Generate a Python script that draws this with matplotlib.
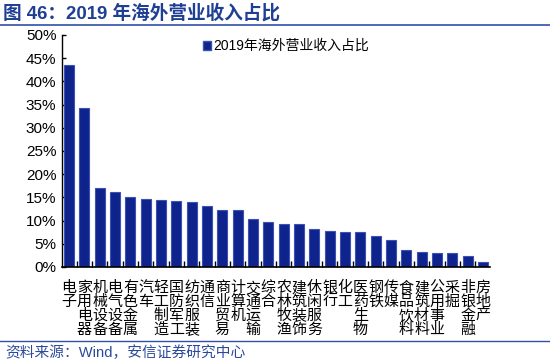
import matplotlib
matplotlib.use("Agg")
import matplotlib.pyplot as plt
from matplotlib.ticker import FuncFormatter, FixedLocator, NullLocator
from matplotlib.lines import Line2D
from matplotlib.patches import Patch

categories = ["电子", "家用电器", "机械设备", "电气设备", "有色金属", "汽车", "轻工制造",
              "国防军工", "纺织服装", "通信", "商业贸易", "计算机", "交通运输", "综合",
              "农林牧渔", "建筑装饰", "休闲服务", "银行", "化工", "医药生物", "钢铁",
              "传媒", "食品饮料", "建筑材料", "公用事业", "采掘", "非银金融", "房地产"]
values = [43.5, 34.3, 17.0, 16.1, 15.1, 14.6, 14.4, 14.2, 14.1, 13.2, 12.3, 12.3,
          10.4, 9.6, 9.3, 9.3, 8.1, 7.8, 7.6, 7.5, 6.6, 5.9, 3.7, 3.2, 3.0, 3.1, 2.3, 1.0]
series_name = "2019年海外营业收入占比"
title = "图 46：2019 年海外营业收入占比"
source = "资料来源：Wind，安信证券研究中心"
yticks = [0, 5, 10, 15, 20, 25, 30, 35, 40, 45, 50]

navy = "#0E238C"
edge = "#3B52B4"
blue_text = "#1F3F95"

fig = plt.figure(figsize=(5.5, 3.64), dpi=100)
ax = fig.add_axes([62/550, 1-267/364, 428/550, 232/364])

x = list(range(len(categories)))
ax.bar(x, values, width=0.66, color=navy, edgecolor=edge, linewidth=0.8, zorder=2)

ax.set_ylim(0, 50)
ax.set_xlim(-0.46, len(categories) - 0.54)
ax.yaxis.set_major_locator(FixedLocator(yticks))
ax.yaxis.set_major_formatter(FuncFormatter(lambda v, p: f"{v:.0f}%"))
ax.tick_params(axis="y", direction="in", length=3, width=1, pad=4,
               labelsize=11, colors="black")
for t in ax.get_yticklabels():
    t.set_fontfamily("Liberation Sans")

ax.xaxis.set_major_locator(NullLocator())
ax.xaxis.set_minor_locator(FixedLocator([i + 0.5 for i in range(len(categories))]))
ax.tick_params(axis="x", which="minor", direction="in", length=4, width=1)

for s in ["top", "right"]:
    ax.spines[s].set_visible(False)
ax.spines["left"].set_linewidth(1)
ax.spines["bottom"].set_linewidth(1.2)

# category labels (vertical stacks)
for i, c in enumerate(categories):
    ax.text(i, -0.06, "\n".join(c), transform=ax.get_xaxis_transform(),
            ha="center", va="top", fontsize=10.8, linespacing=0.99,
            family=["Noto Sans CJK SC", "DejaVu Sans"], color="black")

# legend
handle = Patch(facecolor=navy, edgecolor=edge)
leg = ax.legend([handle], [series_name], loc="upper left",
                bbox_to_anchor=(203/550, 1-39/364), bbox_transform=fig.transFigure,
                frameon=False, handlelength=0.6, handleheight=0.6, handletextpad=0.15,
                borderpad=0, borderaxespad=0,
                prop={"family": ["Liberation Sans", "Noto Sans CJK SC"], "size": 10})

# title and rules
fig.text(3/550, 1-13/364, title, ha="left", va="center", fontsize=13.4, fontweight="bold",
         color=blue_text, family=["Liberation Sans", "Noto Sans CJK SC"])
fig.add_artist(Line2D([0, 1], [1-25/364, 1-25/364], transform=fig.transFigure,
                      color="#3050A8", lw=1.2))
fig.add_artist(Line2D([0, 1], [1-341/364, 1-341/364], transform=fig.transFigure,
                      color="#3050A8", lw=1.0))
fig.text(5/550, 1-353/364, source, ha="left", va="center", fontsize=10.6,
         color="#2B4A9A", family=["Liberation Sans", "Noto Sans CJK SC"])

fig.savefig("out.png", dpi=100)
